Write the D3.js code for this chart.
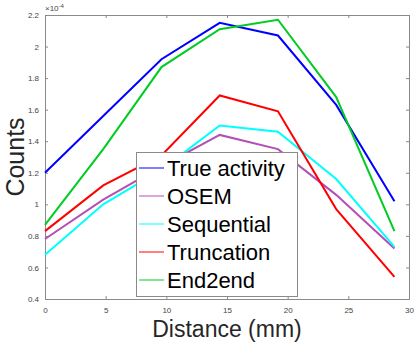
<!DOCTYPE html>
<html>
<head>
<meta charset="utf-8">
<script src="https://cdn.jsdelivr.net/npm/d3@7"></script>
<style>
  body { margin: 0; background: #fff; }
  svg { display: block; font-family: "Liberation Sans", Arial, sans-serif; }
</style>
</head>
<body>
<svg id="chart" width="415" height="347"></svg>
<script>
// distance along the line profile (mm)
var distance = [0, 4.8, 9.6, 14.4, 19.2, 24, 28.8];

// counts, in units of 1e-4
var trueActivity = [1.20, 1.56, 1.92, 2.15, 2.07, 1.63, 1.02];
var osem = [0.78, 1.03, 1.24, 1.44, 1.35, 1.06, 0.72];
var sequential = [0.68, 1.00, 1.22, 1.50, 1.46, 1.16, 0.73];
var truncation = [0.83, 1.12, 1.31, 1.69, 1.59, 0.97, 0.54];
var end2end = [0.87, 1.35, 1.87, 2.11, 2.17, 1.68, 0.83];

var seriesNames = ["True activity", "OSEM", "Sequential", "Truncation", "End2end"];
var seriesColors = ["#0000ff", "#b44fb4", "#00ffff", "#ff0000", "#00cc22"];

var xTicks = [0, 5, 10, 15, 20, 25, 30];
var yTicks = [0.4, 0.6, 0.8, 1, 1.2, 1.4, 1.6, 1.8, 2, 2.2];

var series = [trueActivity, osem, sequential, truncation, end2end];

var margin = {left: 45, top: 15, right: 6, bottom: 48};
var width = 415 - margin.left - margin.right,
    height = 347 - margin.top - margin.bottom;

var svg = d3.select("#chart");
var g = svg.append("g").attr("transform", "translate(" + margin.left + "," + margin.top + ")");

var x = d3.scaleLinear().domain([0, 30]).range([0, width]);
var y = d3.scaleLinear().domain([0.4, 2.2]).range([height, 0]);

var axisColor = "#8a8a8a";
var textColor = "#444";

function styleAxis(sel, showText) {
	sel.select(".domain").attr("stroke", axisColor).attr("stroke-width", 1);
	sel.selectAll(".tick line").attr("stroke", axisColor);
	sel.selectAll(".tick text")
		.attr("fill", textColor)
		.style("font-size", "8px")
		.style("display", showText ? null : "none");
}

// bottom & left axes with inward ticks
g.append("g").attr("transform", "translate(0," + height + ")")
	.call(d3.axisBottom(x).tickValues(xTicks).tickSize(-3).tickPadding(8).tickFormat(d3.format("d")))
	.call(styleAxis, true);
g.append("g")
	.call(d3.axisLeft(y).tickValues(yTicks).tickSize(-3).tickPadding(6).tickFormat(function(d) { return d3.format("")(+d.toFixed(1)); }))
	.call(styleAxis, true);
// mirrored top & right axes
g.append("g")
	.call(d3.axisTop(x).tickValues(xTicks).tickSize(-3))
	.call(styleAxis, false);
g.append("g").attr("transform", "translate(" + width + ",0)")
	.call(d3.axisRight(y).tickValues(yTicks).tickSize(-3))
	.call(styleAxis, false);

// exponent label
var expo = g.append("text").attr("x", 0).attr("y", -4)
	.attr("fill", textColor).style("font-size", "8px");
expo.append("tspan").text("\u00d710");
expo.append("tspan").attr("dy", -3).style("font-size", "6px").text("-4");

// lines
var line = d3.line()
	.x(function(d, i) { return x(distance[i]); })
	.y(function(d) { return y(d); });

g.selectAll(".series")
	.data(series)
	.enter().append("path")
	.attr("class", "series")
	.attr("d", line)
	.attr("fill", "none")
	.attr("stroke", function(d, i) { return seriesColors[i]; })
	.attr("stroke-width", 2);

// legend
var legend = svg.append("g").attr("transform", "translate(136,152)");
legend.append("rect")
	.attr("x", 0.5).attr("y", 0.5)
	.attr("width", 161).attr("height", 144)
	.attr("fill", "#fff").attr("stroke", axisColor).attr("stroke-width", 1);

var items = legend.selectAll(".item")
	.data(seriesNames)
	.enter().append("g")
	.attr("class", "item")
	.attr("transform", function(d, i) { return "translate(0," + (16 + i * 28) + ")"; });
items.append("line")
	.attr("x1", 3).attr("x2", 28)
	.attr("stroke", function(d, i) { return seriesColors[i]; })
	.attr("stroke-width", 1);
items.append("text")
	.attr("x", 31).attr("y", 8)
	.style("font-size", "22px")
	.attr("fill", "#000")
	.text(function(d) { return d; });

// axis titles
svg.append("text")
	.attr("x", margin.left + width / 2).attr("y", 337)
	.attr("text-anchor", "middle")
	.attr("fill", "#262626")
	.style("font-size", "23px")
	.text("Distance (mm)");
svg.append("text")
	.attr("transform", "translate(24," + (margin.top + height / 2) + ") rotate(-90)")
	.attr("text-anchor", "middle")
	.attr("fill", "#262626")
	.style("font-size", "25px")
	.text("Counts");
</script>
</body>
</html>
